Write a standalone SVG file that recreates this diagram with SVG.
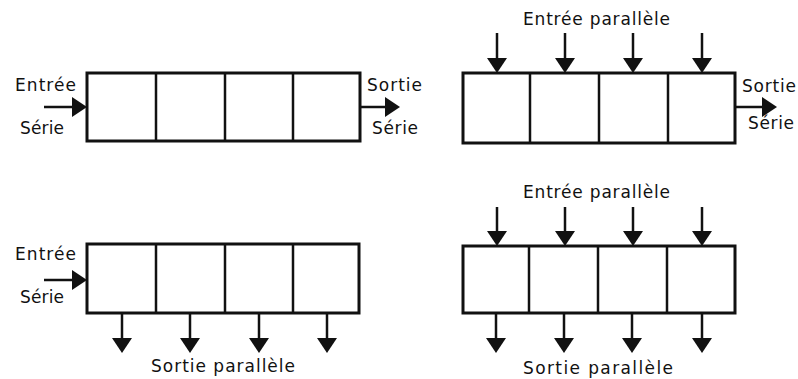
<svg xmlns="http://www.w3.org/2000/svg" width="798" height="379" viewBox="0 0 798 379">
<style>
.box{fill:#fff;stroke:#111;stroke-width:3;stroke-linejoin:miter}
.div{stroke:#111;stroke-width:2.5}
.con{stroke:#111;stroke-width:2.5;fill:none;marker-end:url(#ah)}
text{font-family:"DejaVu Sans","Liberation Sans",Arial,sans-serif;font-size:17px;fill:#111}
</style>
<defs>
<marker id="ah" markerUnits="userSpaceOnUse" markerWidth="16" markerHeight="20" viewBox="0 0 16 20" refX="7" refY="10" orient="auto">
<path d="M0,0 L15,10 L0,20 z" fill="#111"/>
</marker>
</defs>
<rect width="798" height="379" fill="#fff"/>

<g id="reg-serie-serie">
<rect class="box" x="87" y="73" width="273" height="68"/>
<line class="div" x1="156" y1="73" x2="156" y2="141"/>
<line class="div" x1="225" y1="73" x2="225" y2="141"/>
<line class="div" x1="293" y1="73" x2="293" y2="141"/>
</g>
<g id="reg-par-serie">
<rect class="box" x="463" y="73" width="272" height="70"/>
<line class="div" x1="530" y1="73" x2="530" y2="143"/>
<line class="div" x1="599" y1="73" x2="599" y2="143"/>
<line class="div" x1="668" y1="73" x2="668" y2="143"/>
</g>
<g id="reg-serie-par">
<rect class="box" x="87" y="244" width="272" height="69"/>
<line class="div" x1="156" y1="244" x2="156" y2="313"/>
<line class="div" x1="225" y1="244" x2="225" y2="313"/>
<line class="div" x1="293" y1="244" x2="293" y2="313"/>
</g>
<g id="reg-par-par">
<rect class="box" x="463" y="246" width="272" height="67"/>
<line class="div" x1="529" y1="246" x2="529" y2="313"/>
<line class="div" x1="598" y1="246" x2="598" y2="313"/>
<line class="div" x1="667" y1="246" x2="667" y2="313"/>
</g>

<g id="connectors">
<line class="con" x1="44" y1="107" x2="79" y2="107"/>
<line class="con" x1="360" y1="107" x2="392" y2="107"/>
<line class="con" x1="497" y1="33" x2="497" y2="65"/>
<line class="con" x1="565" y1="33" x2="565" y2="65"/>
<line class="con" x1="633" y1="33" x2="633" y2="65"/>
<line class="con" x1="702" y1="33" x2="702" y2="65"/>
<line class="con" x1="735" y1="107" x2="769" y2="107"/>
<line class="con" x1="44" y1="280" x2="79" y2="280"/>
<line class="con" x1="122" y1="313" x2="122" y2="345"/>
<line class="con" x1="190" y1="313" x2="190" y2="345"/>
<line class="con" x1="259" y1="313" x2="259" y2="345"/>
<line class="con" x1="327" y1="313" x2="327" y2="345"/>
<line class="con" x1="497" y1="207" x2="497" y2="238"/>
<line class="con" x1="565" y1="207" x2="565" y2="238"/>
<line class="con" x1="633" y1="207" x2="633" y2="238"/>
<line class="con" x1="702" y1="207" x2="702" y2="238"/>
<line class="con" x1="496" y1="313" x2="496" y2="345"/>
<line class="con" x1="564" y1="313" x2="564" y2="345"/>
<line class="con" x1="632" y1="313" x2="632" y2="345"/>
<line class="con" x1="702" y1="313" x2="702" y2="345"/>
</g>

<g id="labels">
<text x="15" y="91" textLength="61" lengthAdjust="spacing">Entrée</text>
<text x="20" y="134" textLength="44" lengthAdjust="spacing">Série</text>
<text x="367" y="91" textLength="55" lengthAdjust="spacing">Sortie</text>
<text x="372" y="134" textLength="46" lengthAdjust="spacing">Série</text>
<text x="523" y="25" textLength="147" lengthAdjust="spacing">Entrée parallèle</text>
<text x="742" y="92" textLength="54" lengthAdjust="spacing">Sortie</text>
<text x="748" y="129" textLength="46" lengthAdjust="spacing">Série</text>
<text x="15" y="260" textLength="61" lengthAdjust="spacing">Entrée</text>
<text x="20" y="303" textLength="44" lengthAdjust="spacing">Série</text>
<text x="151" y="372" textLength="144" lengthAdjust="spacing">Sortie parallèle</text>
<text x="523" y="198" textLength="147" lengthAdjust="spacing">Entrée parallèle</text>
<text x="523" y="374" textLength="150" lengthAdjust="spacing">Sortie parallèle</text>
</g>
</svg>
